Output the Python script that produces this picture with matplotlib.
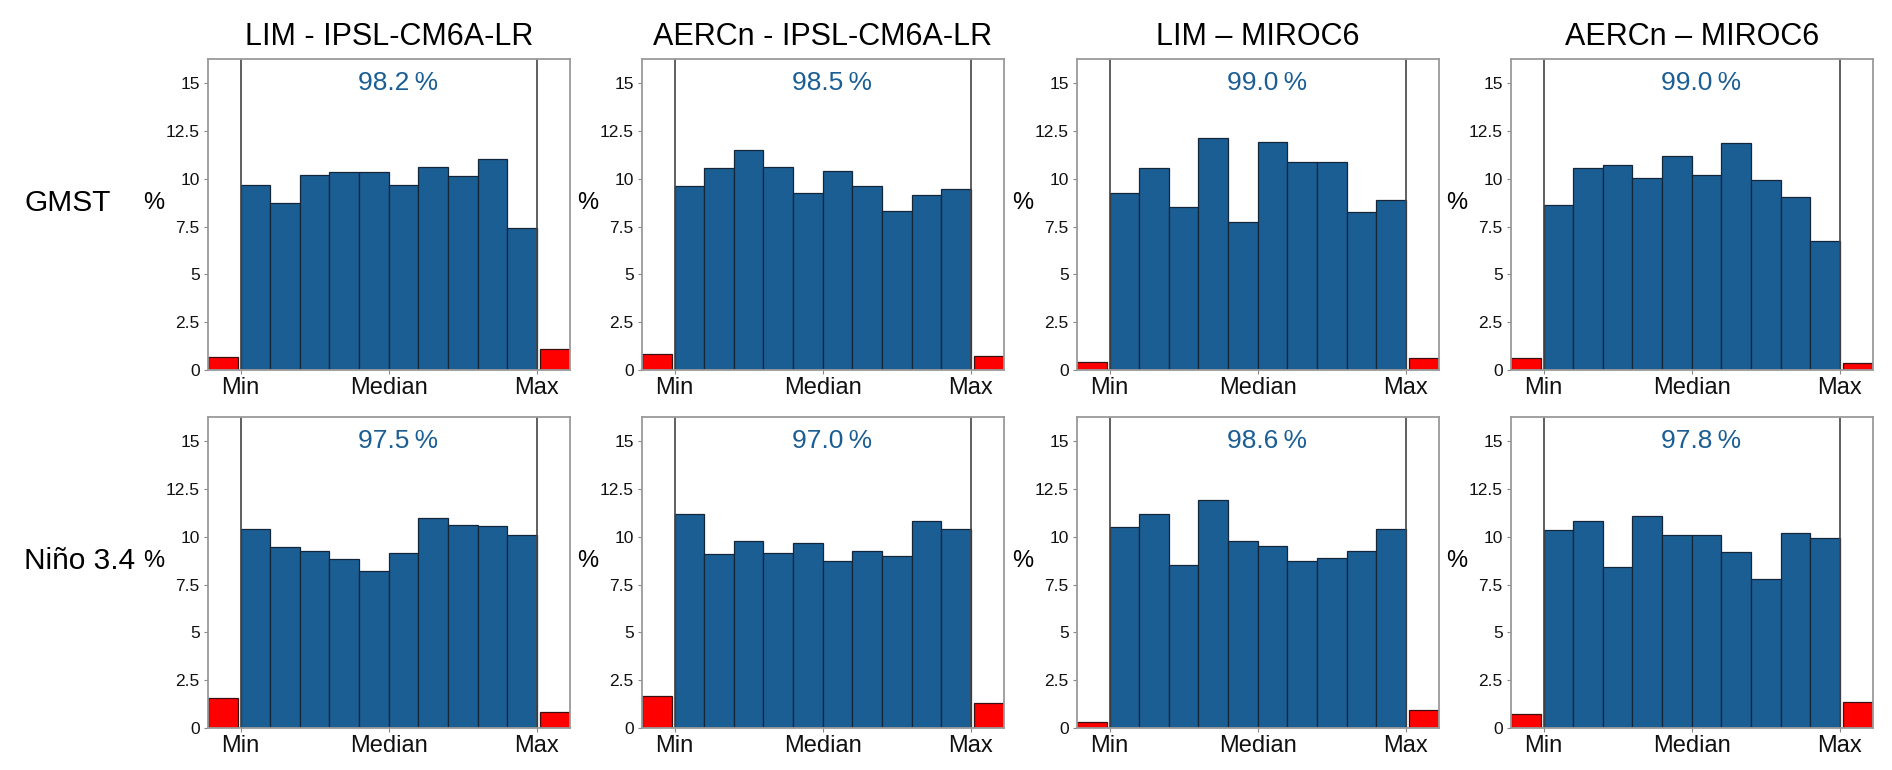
import matplotlib
matplotlib.use('Agg')
import matplotlib.pyplot as plt

plt.rcParams['font.family'] = ['Liberation Sans', 'DejaVu Sans']

titles = ['LIM - IPSL-CM6A-LR', 'AERCn - IPSL-CM6A-LR', 'LIM \u2013 MIROC6', 'AERCn \u2013 MIROC6']
row_labels = ['GMST', 'Ni\u00f1o 3.4']
x_labels = ['Min', 'Median', 'Max']
y_ticks = [0, 2.5, 5, 7.5, 10, 12.5, 15]
y_tick_labels = ['0', '2.5', '5', '7.5', '10', '12.5', '15']

# percentage of truth inside the ensemble range
inside = [['98.2', '98.5', '99.0', '99.0'],
          ['97.5', '97.0', '98.6', '97.8']]

# below min / above max (red bars)
below_min = [[0.69, 0.85, 0.40, 0.65],
             [1.59, 1.65, 0.33, 0.74]]
above_max = [[1.08, 0.73, 0.63, 0.38],
             [0.82, 1.33, 0.96, 1.38]]

# rank bins between min and max (blue bars)
gmst_ranks = [
    [9.70, 8.72, 10.20, 10.36, 10.36, 9.70, 10.62, 10.15, 11.06, 7.41],
    [9.64, 10.59, 11.51, 10.64, 9.28, 10.40, 9.64, 8.32, 9.16, 9.49],
    [9.28, 10.55, 8.55, 12.16, 7.76, 11.92, 10.90, 10.90, 8.28, 8.91],
    [8.65, 10.58, 10.72, 10.05, 11.22, 10.21, 11.85, 9.93, 9.06, 6.75],
]
nino_ranks = [
    [10.43, 9.49, 9.28, 8.86, 8.21, 9.15, 11.01, 10.62, 10.55, 10.08],
    [11.20, 9.08, 9.78, 9.14, 9.70, 8.72, 9.26, 8.98, 10.85, 10.41],
    [10.54, 11.17, 8.52, 11.94, 9.77, 9.54, 8.75, 8.91, 9.26, 10.41],
    [10.34, 10.85, 8.44, 11.10, 10.08, 10.08, 9.19, 7.77, 10.22, 9.96],
]

BLUE = '#1b5e94'
EDGE = '#14263a'
W, H = 1892, 770
LEFTS = [208, 642, 1077, 1511]
TOPS = [59, 417]
AX_W = 361.5
AX_H = 311


def main():
    fig = plt.figure(figsize=(W / 100, H / 100), dpi=100)
    ranks = [gmst_ranks, nino_ranks]
    for r in range(2):
        for c in range(4):
            rect = [LEFTS[c] / W, 1 - (TOPS[r] + AX_H) / H, AX_W / W, AX_H / H]
            ax = fig.add_axes(rect)
            draw_panel(ax, ranks[r][c], below_min[r][c], above_max[r][c], inside[r][c])
            if r == 0:
                ax.set_title(titles[c], fontsize=22, pad=10)
        fig.text(24 / W, 1 - (TOPS[r] + 144) / H, row_labels[r], fontsize=21.5,
                 ha='left', va='center')
    fig.savefig('out.png', dpi=100)


def draw_panel(ax, blue, lo, hi, pct):
    n = len(blue)
    xs = [i + 1 for i in range(n)]
    ax.bar(xs, blue, width=1.0, color=BLUE, edgecolor=EDGE, linewidth=0.9)
    ax.bar([-0.6], [lo], width=1.0, align='edge', color='red', edgecolor='#3a1010', linewidth=0.9)
    ax.bar([n + 0.6], [hi], width=1.0, align='edge', color='red', edgecolor='#3a1010', linewidth=0.9)
    ax.axvline(0.5, color='#444444', linewidth=1.2)
    ax.axvline(n + 0.5, color='#444444', linewidth=1.2)

    ax.set_xlim(-0.6, n + 1.6)
    ax.set_ylim(0, 16.27)
    ax.set_xticks([0.5, (n + 1) / 2, n + 0.5])
    ax.set_xticklabels(x_labels, fontsize=17)
    ax.set_yticks(y_ticks)
    ax.set_yticklabels(y_tick_labels, fontsize=12.5)
    ax.tick_params(axis='both', length=3, color='#888888', pad=3, labelcolor='#111111')
    ax.tick_params(axis='x', pad=2)
    for s in ax.spines.values():
        s.set_color('#9a9a9a')
        s.set_linewidth(1.3)

    ax.set_ylabel('%', rotation=0, fontsize=17, ha='center', va='center')
    ax.yaxis.set_label_coords(-54 / AX_W, 167 / AX_H)

    ax.text(5.8, 15, pct + '\u2009%', fontsize=19, color=BLUE, ha='center', va='center')


main()
